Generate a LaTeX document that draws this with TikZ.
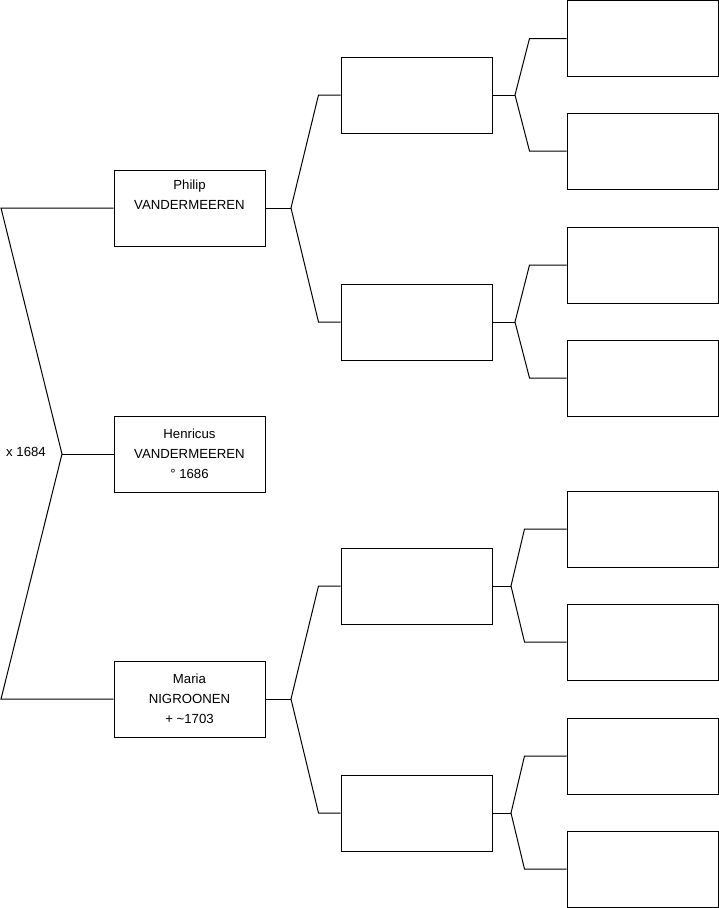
\documentclass[tikz,border=0pt]{standalone}
\usepackage{fontspec}
\setmainfont{Liberation Sans}
\begin{document}
\begin{tikzpicture}[x=1pt,y=-1pt,
  box/.style={draw=black, line width=1pt, minimum width=151pt, minimum height=76pt,
    inner sep=0pt, align=center, font=\fontsize{13.2}{20}\selectfont},
  conn/.style={draw=black, line width=1pt},
  lbl/.style={font=\fontsize{13.2}{20}\selectfont, inner sep=0pt}]
\useasboundingbox (0,0) rectangle (719,908);
% generation 1
\node[box] (phil) at (189.5,208) {Philip\\VANDERMEEREN\\\strut};
\node[box] (henr) at (189.5,454) {Henricus\\VANDERMEEREN\\° 1686};
\node[box] (maria) at (189.5,699) {Maria\\NIGROONEN\\+ \textasciitilde1703};
% generation 2
\node[box] (a) at (416.5,95) {};
\node[box] (b) at (416.5,322) {};
\node[box] (c) at (416.5,586) {};
\node[box] (d) at (416.5,813) {};
% generation 3
\node[box] (a1) at (642.5,38.5) {};
\node[box] (a2) at (642.5,151) {};
\node[box] (b1) at (642.5,265) {};
\node[box] (b2) at (642.5,378) {};
\node[box] (c1) at (642.5,529) {};
\node[box] (c2) at (642.5,642) {};
\node[box] (d1) at (642.5,756) {};
\node[box] (d2) at (642.5,869) {};
% marriage label
\node[lbl] (mar) at (26,452) {x 1684};
% root connector
\coordinate (r0) at (62,454);
\coordinate (rt) at (1,208);
\coordinate (rb) at (1,699);
\draw[conn] (phil.west) -- (rt) -- (r0) -- (rb) -- (maria.west);
\draw[conn] (r0) -- (henr.west);
% gen1 -> gen2
\coordinate (jp) at (291,208);
\coordinate (jm) at (291,699);
\draw[conn] (phil.east) -- (jp);
\draw[conn] (a.west) -- ([xshift=-22pt]a.west) -- (jp) -- ([xshift=-22pt]b.west) -- (b.west);
\draw[conn] (maria.east) -- (jm);
\draw[conn] (c.west) -- ([xshift=-22pt]c.west) -- (jm) -- ([xshift=-22pt]d.west) -- (d.west);
% gen2 -> gen3
\coordinate (ja) at (515,95);
\coordinate (jb) at (515,322);
\coordinate (jc) at (511,586);
\coordinate (jd) at (511,813);
\draw[conn] (a.east) -- (ja);
\draw[conn] (a1.west) -- ([xshift=-37pt]a1.west) -- (ja) -- ([xshift=-37pt]a2.west) -- (a2.west);
\draw[conn] (b.east) -- (jb);
\draw[conn] (b1.west) -- ([xshift=-37pt]b1.west) -- (jb) -- ([xshift=-37pt]b2.west) -- (b2.west);
\draw[conn] (c.east) -- (jc);
\draw[conn] (c1.west) -- ([xshift=-42pt]c1.west) -- (jc) -- ([xshift=-42pt]c2.west) -- (c2.west);
\draw[conn] (d.east) -- (jd);
\draw[conn] (d1.west) -- ([xshift=-42pt]d1.west) -- (jd) -- ([xshift=-42pt]d2.west) -- (d2.west);
\end{tikzpicture}
\end{document}
